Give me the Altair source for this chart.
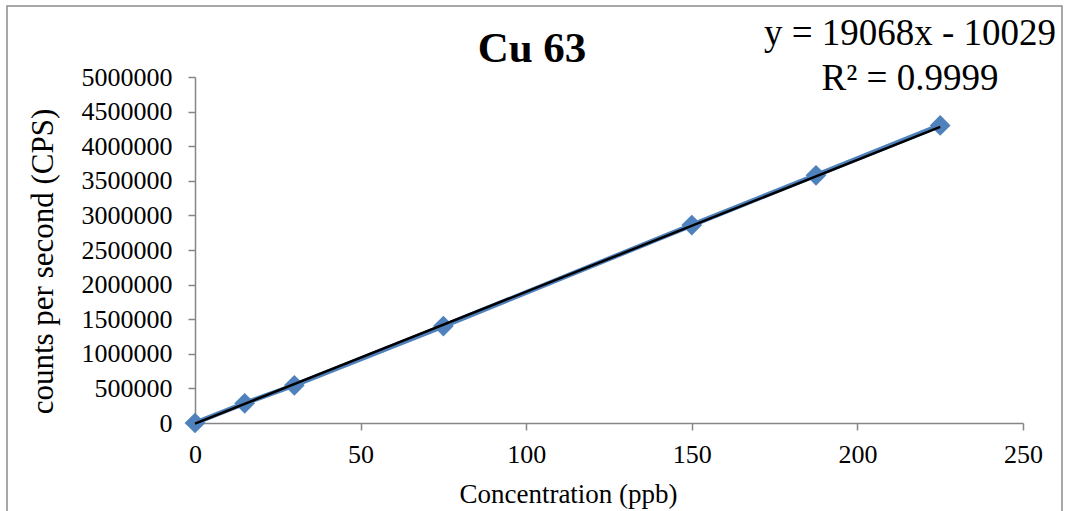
import altair as alt
import pandas as pd

# Calibration data for Cu 63
conc = [0, 15, 30, 75, 150, 187.5, 225]
cps = [0, 285000, 545000, 1400000, 2860000, 3580000, 4300000]

# Linear fit reported for the calibration
slope = 19068
intercept = -10029
r_squared = 0.9999

x_ticks = [0, 50, 100, 150, 200, 250]
y_ticks = [0, 500000, 1000000, 1500000, 2000000, 2500000,
           3000000, 3500000, 4000000, 4500000, 5000000]

chart_title = "Cu 63"
x_title = "Concentration (ppb)"
y_title = "counts per second (CPS)"

FONT = "Liberation Serif"
AXIS_GREY = "#868686"
BLUE = "#4F81BD"

W, H = 828, 346
LEFT, TOP = 195, 77

points = pd.DataFrame({"conc": conc, "cps": cps})
trend = pd.DataFrame({"conc": [conc[0], conc[-1]]})

x_scale = alt.Scale(domain=[0, 250], nice=False, zero=False)
y_scale = alt.Scale(domain=[0, 5000000], nice=False)

x_axis = alt.Axis(
    values=x_ticks, tickCount=len(x_ticks), format="d", grid=False, labelFlush=False,
    domainColor=AXIS_GREY, domainWidth=1.5, tickColor=AXIS_GREY, tickWidth=1.5, tickSize=7,
    labelFont=FONT, labelFontSize=26, labelColor="black",
    labelBaseline="alphabetic", labelPadding=32,
    title=x_title, titleFont=FONT, titleFontSize=27, titleFontWeight="normal",
    titleColor="black", titleX=373, titleY=79, titleBaseline="alphabetic", titleAnchor="middle",
)
y_axis = alt.Axis(
    values=y_ticks, tickCount=len(y_ticks), format="d", grid=False, labelFlush=False,
    domainColor=AXIS_GREY, domainWidth=1.5, tickColor=AXIS_GREY, tickWidth=1.5, tickSize=7,
    labelFont=FONT, labelFontSize=26, labelColor="black", labelPadding=16,
    title=y_title, titleFont=FONT, titleFontSize=31, titleFontWeight="normal",
    titleColor="black", titleX=-143, titleY=184, titleAngle=270,
    titleBaseline="alphabetic", titleAnchor="middle",
)

series = alt.Chart(points).mark_line(
    color=BLUE, strokeWidth=5,
    point=alt.OverlayMarkDef(shape="diamond", size=430, color=BLUE, filled=True, opacity=1),
).encode(
    x=alt.X("conc:Q", scale=x_scale, axis=x_axis),
    y=alt.Y("cps:Q", scale=y_scale, axis=y_axis),
)

fit_line = alt.Chart(trend).transform_calculate(
    fit=f"{slope} * datum.conc + ({intercept})"
).mark_line(color="black", strokeWidth=2.5).encode(
    x=alt.X("conc:Q", scale=x_scale),
    y=alt.Y("fit:Q", scale=y_scale),
)

frame = alt.Chart(pd.DataFrame({"k": [0]})).mark_rect(
    fill=None, stroke="#8c8c8c", strokeWidth=1.5
).encode(
    x=alt.value(7 - LEFT), x2=alt.value(1062 - LEFT),
    y=alt.value(6 - TOP), y2=alt.value(560 - TOP),
)


def label(text, px, py, size, weight="normal"):
    return alt.Chart(pd.DataFrame({"t": [text]})).mark_text(
        font=FONT, fontSize=size, fontWeight=weight, color="black",
        align="center", baseline="alphabetic",
    ).encode(text="t:N", x=alt.value(px - LEFT), y=alt.value(py - TOP))


title_text = label(chart_title, 532, 62, 43, "bold")
eq_line1 = label(f"y = {slope}x - {abs(intercept)}", 910, 45, 37)
eq_line2 = label(f"R² = {r_squared}", 910, 90, 37)

chart = alt.layer(frame, series, fit_line, title_text, eq_line1, eq_line2).properties(
    width=W, height=H,
    autosize=alt.AutoSizeParams(type="none"),
    padding={"left": LEFT, "top": TOP, "right": 1066 - LEFT - W, "bottom": 511 - TOP - H},
    background="white",
).configure_view(stroke=None)

chart.save("out.html", embed_options={"renderer": "svg", "actions": False})
